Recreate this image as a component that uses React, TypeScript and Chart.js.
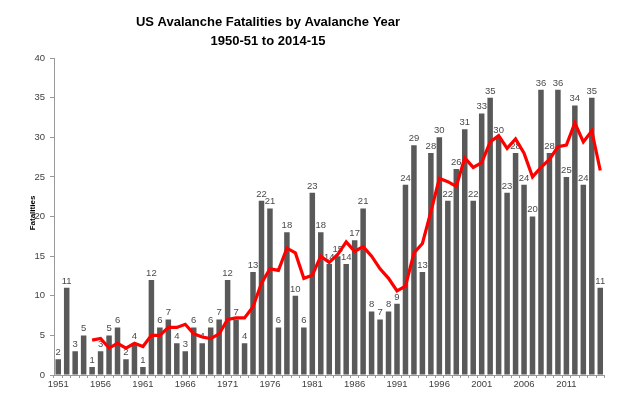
import React, { useEffect, useRef } from "react";
import { Chart, registerables } from "chart.js";

Chart.register(...registerables);

const years: string[] = [
  "1951","1952","1953","1954","1955","1956","1957","1958","1959","1960",
  "1961","1962","1963","1964","1965","1966","1967","1968","1969","1970",
  "1971","1972","1973","1974","1975","1976","1977","1978","1979","1980",
  "1981","1982","1983","1984","1985","1986","1987","1988","1989","1990",
  "1991","1992","1993","1994","1995","1996","1997","1998","1999","2000",
  "2001","2002","2003","2004","2005","2006","2007","2008","2009","2010",
  "2011","2012","2013","2014","2015",
];

const fatalities: number[] = [
  2, 11, 3, 5, 1, 3, 5, 6, 2, 4,
  1, 12, 6, 7, 4, 3, 6, 4, 6, 7,
  12, 7, 4, 13, 22, 21, 6, 18, 10, 6,
  23, 18, 14, 15, 14, 17, 21, 8, 7, 8,
  9, 24, 29, 13, 28, 30, 22, 26, 31, 22,
  33, 35, 30, 23, 28, 24, 20, 36, 28, 36,
  25, 34, 24, 35, 11,
];

const movingAverage: (number | null)[] = [
  null, null, null, null, 4.4, 4.6, 3.4, 4.0, 3.4, 4.0,
  3.6, 5.0, 5.0, 6.0, 6.0, 6.4, 5.2, 4.8, 4.6, 5.2,
  7.0, 7.2, 7.2, 8.6, 11.6, 13.4, 13.2, 16.0, 15.4, 12.2,
  12.6, 15.0, 14.2, 15.2, 16.8, 15.6, 16.2, 15.0, 13.4, 12.2,
  10.6, 11.2, 15.4, 16.6, 20.6, 24.8, 24.4, 23.8, 27.4, 26.2,
  26.8, 29.4, 30.2, 28.6, 29.8, 28.0, 25.0, 26.2, 27.2, 28.8,
  29.0, 31.8, 29.4, 30.8, 25.8,
];

const titleLines: string[] = ["US Avalanche Fatalities by Avalanche Year", "1950-51 to 2014-15"];
const yTitle = "Fatalities";

const FONT = "'Liberation Sans', Arial, sans-serif";

const barLabels = {
  id: "barLabels",
  afterDatasetDraw(chart: any, args: any) {
    if (args.index !== 0) return;
    const ctx = chart.ctx;
    const meta = chart.getDatasetMeta(0);
    ctx.save();
    ctx.font = `9.5px ${FONT}`;
    ctx.fillStyle = "#4a4a4a";
    ctx.textAlign = "center";
    ctx.textBaseline = "bottom";
    meta.data.forEach((el: any, i: number) => {
      ctx.fillText(String(fatalities[i]), el.x, el.y - 2);
    });
    ctx.restore();
  },
};

const titles = {
  id: "customTitles",
  afterDraw(chart: any) {
    const ctx = chart.ctx;
    ctx.save();
    ctx.fillStyle = "#000";
    ctx.textAlign = "center";
    ctx.textBaseline = "middle";
    ctx.font = `bold 13px ${FONT}`;
    ctx.fillText(titleLines[0], 268, 22);
    ctx.fillText(titleLines[1], 268, 41);
    ctx.translate(33, 213);
    ctx.rotate(-Math.PI / 2);
    ctx.font = `bold 8px ${FONT}`;
    ctx.fillText(yTitle, 0, 0);
    ctx.restore();
  },
};

export default function App() {
  const ref = useRef<HTMLCanvasElement | null>(null);
  useEffect(() => {
    document.body.style.margin = "0";
    const canvas = ref.current!;
    const chart = new Chart(canvas, {
      type: "bar",
      data: {
        labels: years,
        datasets: [
          {
            type: "bar",
            data: fatalities,
            backgroundColor: "#595959",
            borderWidth: 0,
            categoryPercentage: 1,
            barPercentage: 0.65,
            order: 2,
          },
          {
            type: "line",
            data: movingAverage as any,
            borderColor: "#ff0000",
            borderWidth: 3.2,
            pointRadius: 0,
            fill: false,
            tension: 0,
            order: 1,
          } as any,
        ],
      },
      options: {
        responsive: false,
        animation: false,
        layout: { padding: { left: 0, right: 15.5, top: 58, bottom: 0 } },
        plugins: {
          legend: { display: false },
          tooltip: { enabled: false },
          title: { display: false },
        },
        scales: {
          x: {
            offset: true,
            afterFit: (s: any) => {
              s.height = 21;
            },
            grid: {
              display: true,
              drawOnChartArea: false,
              offset: true,
              tickLength: 3,
              color: "#999",
            },
            border: { color: "#999" },
            ticks: {
              autoSkip: false,
              maxRotation: 0,
              minRotation: 0,
              padding: 1,
              color: "#404040",
              font: { family: FONT, size: 9.5 },
              callback: (_v: any, i: number) => (i % 5 === 0 ? years[i] : ""),
            },
          },
          y: {
            min: 0,
            max: 40,
            afterFit: (s: any) => {
              s.width = 54;
            },
            grid: {
              display: true,
              drawOnChartArea: false,
              tickLength: 4,
              color: "#999",
            },
            border: { color: "#999" },
            ticks: {
              stepSize: 5,
              padding: 5,
              color: "#404040",
              font: { family: FONT, size: 9.5 },
            },
          },
        },
      },
      plugins: [barLabels, titles],
    });
    return () => chart.destroy();
  }, []);
  return <canvas ref={ref} width={620} height={396} style={{ display: "block" }} />;
}
